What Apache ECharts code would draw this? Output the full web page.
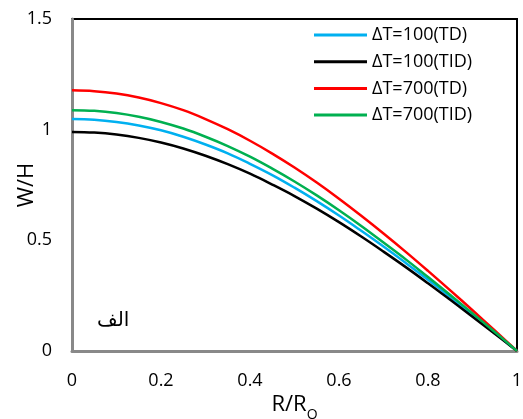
<!DOCTYPE html>
<html>
<head>
<meta charset="utf-8">
<script src="https://cdn.jsdelivr.net/npm/echarts@6/dist/echarts.min.js"></script>
<style>html,body{margin:0;padding:0;background:#fff;}#c{width:523px;height:419px;}</style>
</head>
<body>
<div id="c"></div>
<script>
const rValues  = [0, 0.05, 0.1, 0.15, 0.2, 0.25, 0.3, 0.35, 0.4, 0.45, 0.5, 0.55, 0.6, 0.65, 0.7, 0.75, 0.8, 0.85, 0.9, 0.95, 1.0];
const seriesNames = ['ΔT=100(TD)', 'ΔT=100(TID)', 'ΔT=700(TD)', 'ΔT=700(TID)'];
const dT100TD  = [1.048, 1.045, 1.035, 1.019, 0.997, 0.968, 0.933, 0.893, 0.846, 0.795, 0.738, 0.677, 0.612, 0.543, 0.472, 0.398, 0.322, 0.244, 0.164, 0.082, 0];
const dT100TID = [0.990, 0.987, 0.978, 0.963, 0.942, 0.915, 0.882, 0.844, 0.801, 0.752, 0.700, 0.643, 0.582, 0.517, 0.449, 0.379, 0.306, 0.231, 0.155, 0.078, 0];
const dT700TD  = [1.178, 1.174, 1.163, 1.145, 1.120, 1.088, 1.048, 1.002, 0.950, 0.892, 0.829, 0.761, 0.688, 0.611, 0.531, 0.448, 0.362, 0.274, 0.184, 0.093, 0];
const dT700TID = [1.088, 1.085, 1.075, 1.058, 1.035, 1.005, 0.968, 0.926, 0.878, 0.824, 0.766, 0.703, 0.636, 0.565, 0.490, 0.414, 0.334, 0.253, 0.170, 0.086, 0];
const yTicks = [0, 0.5, 1, 1.5];
const xTicks = [0, 0.2, 0.4, 0.6, 0.8, 1];
const panelLabel = 'الف';

const colors = ['#00b0f0', '#000000', '#ff0000', '#00b050'];
const allValues = [dT100TD, dT100TID, dT700TD, dT700TID];
const FONT = 'Open Sans';

const chart = echarts.init(document.getElementById('c'), null, {renderer: 'canvas'});
chart.setOption({
  backgroundColor: '#fff',
  animation: false,
  textStyle: {fontFamily: FONT},
  grid: {left: 72, right: 6, top: 19, bottom: 68, containLabel: false, outerBoundsMode: 'none',
    show: true, borderColor: '#000', borderWidth: 2, backgroundColor: 'transparent'},
  legend: {
    orient: 'vertical', left: 314, top: 26, padding: 0, itemWidth: 53, itemHeight: 3, itemGap: 8.7,
    icon: 'rect',
    textStyle: {fontFamily: FONT, fontSize: 18, color: '#000'},
    data: seriesNames
  },
  xAxis: {
    type: 'value', min: xTicks[0], max: xTicks[xTicks.length - 1], interval: 0.2,
    axisLine: {show: true, onZero: false, lineStyle: {color: '#898989', width: 3}},
    axisTick: {show: false}, splitLine: {show: false},
    axisLabel: {fontFamily: FONT, fontSize: 18, color: '#000', margin: 21,
      formatter: v => xTicks.includes(+v.toFixed(1)) ? String(+v.toFixed(1)) : ''},
    name: '{a|R/R}{b|O}', nameLocation: 'middle', nameGap: 37, nameMoveOverlap: false,
    nameTextStyle: {rich: {a: {fontFamily: FONT, fontSize: 22, color: '#000'}, b: {fontFamily: FONT, fontSize: 14, color: '#000', padding: [20, 0, 0, 0]}}}
  },
  yAxis: {
    type: 'value', min: yTicks[0], max: yTicks[yTicks.length - 1], interval: 0.5,
    axisLine: {show: true, lineStyle: {color: '#898989', width: 3}},
    axisTick: {show: false}, splitLine: {show: false},
    axisLabel: {fontFamily: FONT, fontSize: 18, color: '#000', margin: 20,
      formatter: v => String(+v.toFixed(1))},
    name: 'W/H', nameLocation: 'middle', nameGap: 34, nameMoveOverlap: false,
    nameTextStyle: {fontFamily: FONT, fontSize: 22, color: '#000'}
  },
  series: seriesNames.map((n, i) => ({
    name: n, type: 'line', smooth: 0.4, symbol: 'none',
    color: colors[i],
    lineStyle: {color: colors[i], width: 2.5},
    data: rValues.map((r, j) => [r, allValues[i][j]])
  })),
  graphic: [{
    type: 'text', left: 97, top: 311,
    style: {text: panelLabel, fontFamily: 'DejaVu Sans', fontSize: 20, fill: '#000'}
  }]
});
</script>
</body>
</html>
